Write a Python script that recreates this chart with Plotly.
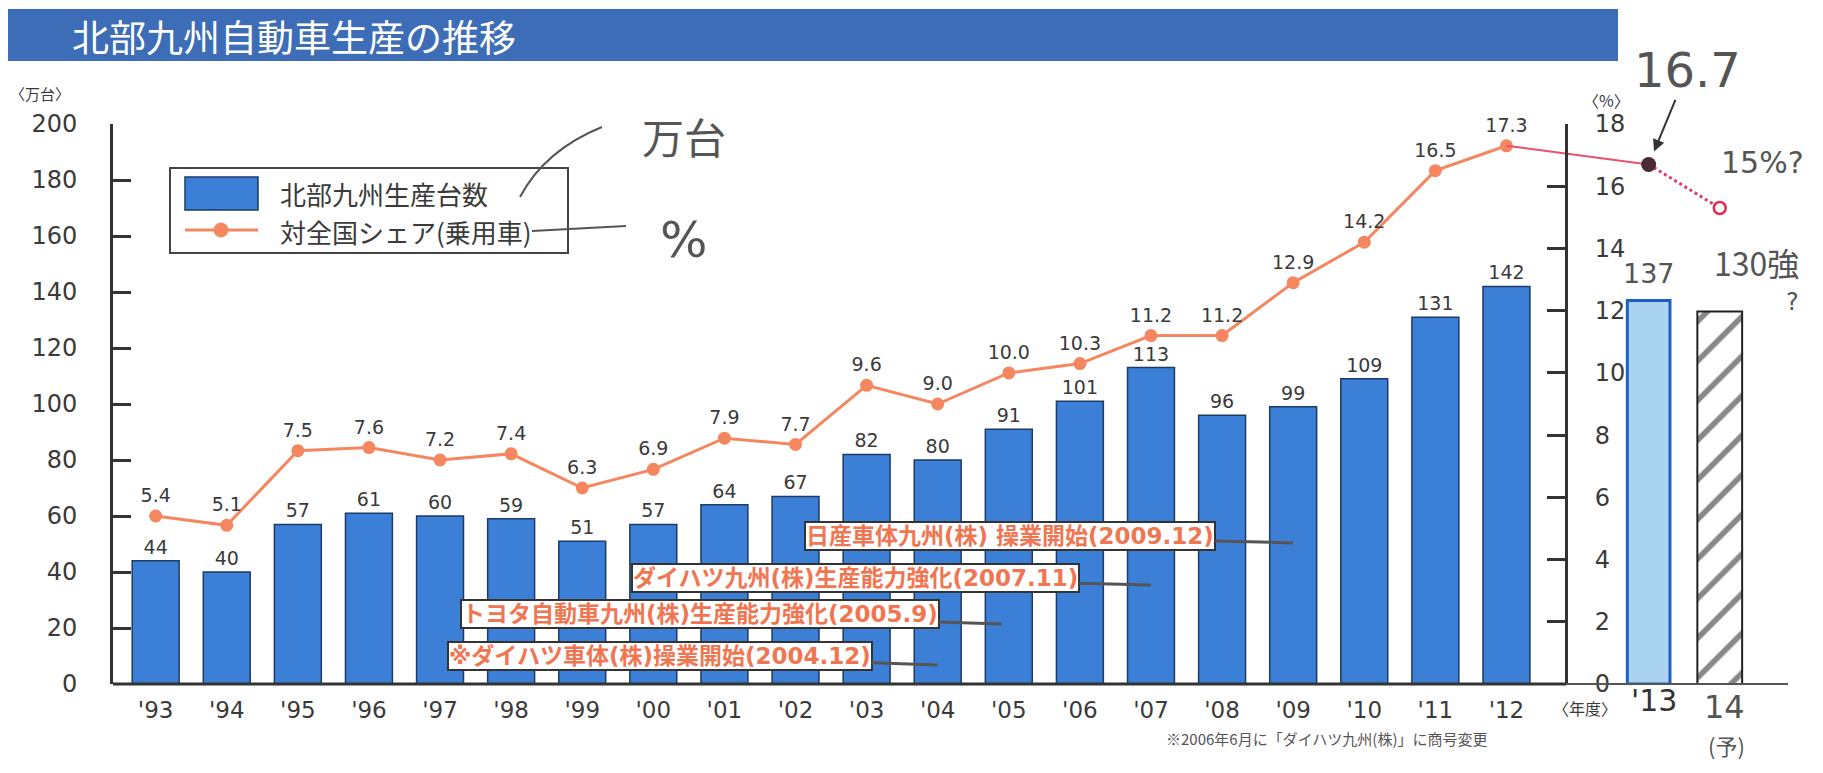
import plotly.graph_objects as go

# ---------------- data ----------------
years = ["'93", "'94", "'95", "'96", "'97", "'98", "'99", "'00", "'01", "'02",
         "'03", "'04", "'05", "'06", "'07", "'08", "'09", "'10", "'11", "'12"]
production = [44, 40, 57, 61, 60, 59, 51, 57, 64, 67,
              82, 80, 91, 101, 113, 96, 99, 109, 131, 142]          # 万台
share = [5.4, 5.1, 7.5, 7.6, 7.2, 7.4, 6.3, 6.9, 7.9, 7.7,
         9.6, 9.0, 10.0, 10.3, 11.2, 11.2, 12.9, 14.2, 16.5, 17.3]  # %

# handwritten additions
hand_years = ["'13", "14"]
hand_production = [137, 133]
hand_share = [16.7, 15.3]

# callouts: (text, year the pointer hits, value where it hits)
events = [
    ("日産車体九州(株) 操業開始(2009.12)", "'09", 50.4),
    ("ダイハツ九州(株)生産能力強化(2007.11)", "'07", 35.4),
    ("トヨタ自動車九州(株)生産能力強化(2005.9)", "'05", 21.4),
    ("※ダイハツ車体(株)操業開始(2004.12)", "'04", 6.8),
]

# ---------------- geometry helpers (screen pixels) ----------------
W, H = 1823, 773
OFF = 8                       # page body margin
L, R, T, B = 113, 1788, 124, 684
FW, FH = W - 2 * OFF, H - 2 * OFF
def px(x):
    return (x - L) / (R - L)
def py(y):
    return (B - y) / (B - T)

xpos = list(range(len(years)))
hand_x = [len(years) + 1, len(years) + 2]

FONT = "DejaVu Sans"
JP = "Noto Sans CJK JP"
MIX = "DejaVu Sans, Noto Sans CJK JP"
BAR = "#3b80d6"
LINE = "#f4875f"
TXT = "#3a3a3a"

fig = go.Figure()

# main bars
fig.add_trace(go.Bar(
    x=xpos, y=production, width=0.66,
    marker=dict(color=BAR, line=dict(color="#1e3a66", width=1.5)),
    text=production, texttemplate="%{y}", textposition="outside",
    textfont=dict(family=FONT, size=19, color=TXT),
    cliponaxis=False, showlegend=False))

# handwritten bars
fig.add_trace(go.Bar(
    x=[hand_x[0]], y=[hand_production[0]], width=0.6,
    marker=dict(color="#a9d3f0", line=dict(color="#1f5fc8", width=3)),
    showlegend=False))
fig.add_trace(go.Bar(
    x=[hand_x[1]], y=[hand_production[1]], width=0.63,
    marker=dict(color="white", line=dict(color="#222222", width=2),
                pattern=dict(shape="/", fgcolor="#111111", bgcolor="white",
                             size=28, solidity=0.2)),
    showlegend=False))

# share line
fig.add_trace(go.Scatter(
    x=xpos, y=share, yaxis="y2", mode="lines+markers+text",
    line=dict(color=LINE, width=3),
    marker=dict(color=LINE, size=13),
    text=share, texttemplate="%{y:.1f}", textposition="top center",
    textfont=dict(family=FONT, size=19, color=TXT),
    cliponaxis=False, showlegend=False))

# handwritten extension of the share line
fig.add_trace(go.Scatter(
    x=[xpos[-1], hand_x[0]], y=[share[-1], hand_share[0]], yaxis="y2",
    mode="lines", line=dict(color="#e8506e", width=2),
    cliponaxis=False, showlegend=False))
fig.add_trace(go.Scatter(
    x=hand_x, y=hand_share, yaxis="y2", mode="lines",
    line=dict(color="#d8406a", width=3, dash="dot"),
    cliponaxis=False, showlegend=False))
fig.add_trace(go.Scatter(
    x=[hand_x[0]], y=[hand_share[0]], yaxis="y2", mode="markers",
    marker=dict(color="#4a2a35", size=15),
    cliponaxis=False, showlegend=False))
fig.add_trace(go.Scatter(
    x=[hand_x[1]], y=[hand_share[1]], yaxis="y2", mode="markers",
    marker=dict(color="white", size=12, line=dict(color="#d83050", width=2.5)),
    cliponaxis=False, showlegend=False))

shapes = []
annotations = []

def note(x, y, text, size, family=FONT, color=TXT, xanchor="center"):
    annotations.append(dict(xref="paper", yref="paper", x=px(x), y=py(y),
                            xanchor=xanchor, yanchor="middle", showarrow=False,
                            text=text, font=dict(family=family, size=size, color=color)))

# title bar
shapes.append(dict(type="rect", xref="paper", yref="paper",
                   x0=px(6), x1=px(1618), y0=py(61), y1=py(9),
                   fillcolor="#3d6db6", line=dict(width=0), layer="below"))
note(70, 36, "北部九州自動車生産の推移", 37, JP, "white", "left")

# baseline: printed part and handwritten extension
shapes.append(dict(type="line", xref="paper", yref="paper",
                   x0=0, x1=px(1566), y0=0, y1=0,
                   line=dict(color="#333333", width=3)))
shapes.append(dict(type="line", xref="paper", yref="paper",
                   x0=px(1566), x1=1, y0=0, y1=0,
                   line=dict(color="#555555", width=2)))

# legend (drawn)
shapes.append(dict(type="rect", xref="paper", yref="paper",
                   x0=px(170), x1=px(568), y0=py(253), y1=py(168),
                   fillcolor="white", line=dict(color="#444444", width=2)))
shapes.append(dict(type="rect", xref="paper", yref="paper",
                   x0=px(185), x1=px(258), y0=py(210), y1=py(177),
                   fillcolor=BAR, line=dict(color="#1e3a66", width=1.5)))
shapes.append(dict(type="line", xref="paper", yref="paper",
                   x0=px(185), x1=px(258), y0=py(230), y1=py(230),
                   line=dict(color=LINE, width=3)))
shapes.append(dict(type="circle", xref="paper", yref="paper",
                   x0=px(214), x1=px(228), y0=py(237), y1=py(223),
                   fillcolor=LINE, line=dict(color=LINE, width=1)))
note(278, 193, "北部九州生産台数", 26, JP, TXT, "left")
note(278, 231, "対全国シェア(乗用車)", 26, JP, TXT, "left")

# axis unit labels
note(40, 94, "〈万台〉", 15, JP)
note(1606, 100, "〈%〉", 16, JP)
note(1551, 708, "〈年度〉", 16, JP, TXT, "left")

# footnote
note(1326, 738, "※2006年6月に「ダイハツ九州(株)」に商号変更", 15, JP, "#555555")

# callouts
offsets = [(-283, -7), (-295, -7), (-302, -10), (-278, -9)]
for (txt, yr, val), (ax, ay) in zip(events, offsets):
    xi = years.index(yr)
    if yr == "'05":
        xi = xi - 0.1
    annotations.append(dict(
        x=xi, y=val, xref="x", yref="y", ax=ax, ay=ay,
        text="<b>" + txt + "</b>", showarrow=True, arrowhead=0,
        arrowwidth=3, arrowcolor="#555555",
        bgcolor="white", bordercolor="#333333", borderwidth=2, borderpad=0,
        font=dict(family=MIX, size=23, color="#f07652")))

# handwritten notes
HW = "#555555"
shapes.append(dict(type="path", xref="paper", yref="paper",
                   path="M {},{} Q {},{} {},{}".format(
                       px(520), py(197), px(545), py(150), px(602), py(127)),
                   line=dict(color=HW, width=2)))
shapes.append(dict(type="line", xref="paper", yref="paper",
                   x0=px(532), x1=px(626), y0=py(231), y1=py(226),
                   line=dict(color=HW, width=2)))
note(684, 135, "万台", 42, JP, HW)
note(684, 240, "%", 50, FONT, HW)
annotations.append(dict(x=hand_x[0], y=hand_share[0], xref="x", yref="y2",
                        ax=39, ay=-94, text="16.7", showarrow=True,
                        arrowhead=2, arrowsize=1.2, arrowwidth=2,
                        arrowcolor="#333333", standoff=14,
                        font=dict(family=FONT, size=48, color=HW)))
note(1762, 162, "15%?", 30, FONT, HW)
note(1649, 273, "137", 27, FONT, HW)
note(1756, 262, "130強", 32, JP, HW)
note(1792, 302, "?", 24, FONT, HW)
note(1654, 700, "'13", 30, FONT, "#333333")
note(1724, 707, "14", 32, FONT, HW)
note(1726, 745, "(予)", 22, JP, HW)

axis_common = dict(showgrid=False, zeroline=False, showline=True,
                   linecolor="#333333", linewidth=3, ticks="inside",
                   ticklen=18, tickwidth=3, tickcolor="#333333",
                   tickfont=dict(family=FONT, size=24, color=TXT))

fig.update_layout(
    width=FW, height=FH,
    margin=dict(l=L - OFF, r=FW - (R - OFF), t=T - OFF, b=FH - (B - OFF), pad=0),
    paper_bgcolor="white", plot_bgcolor="white",
    showlegend=False, barmode="overlay",
    xaxis=dict(range=[-0.60, 22.96], tickmode="array", tickvals=xpos,
               ticktext=years, showgrid=False, zeroline=False, showline=False,
               ticks="", ticklabelstandoff=10,
               tickfont=dict(family=FONT, size=23, color=TXT)),
    yaxis=dict(range=[0, 200], dtick=20, ticklabelstandoff=28, **axis_common),
    yaxis2=dict(range=[0, 18], dtick=2, overlaying="y", side="right",
                anchor="free", position=px(1566), ticklabelstandoff=22,
                **axis_common),
    shapes=shapes, annotations=annotations,
)

fig.write_html("out.html")
